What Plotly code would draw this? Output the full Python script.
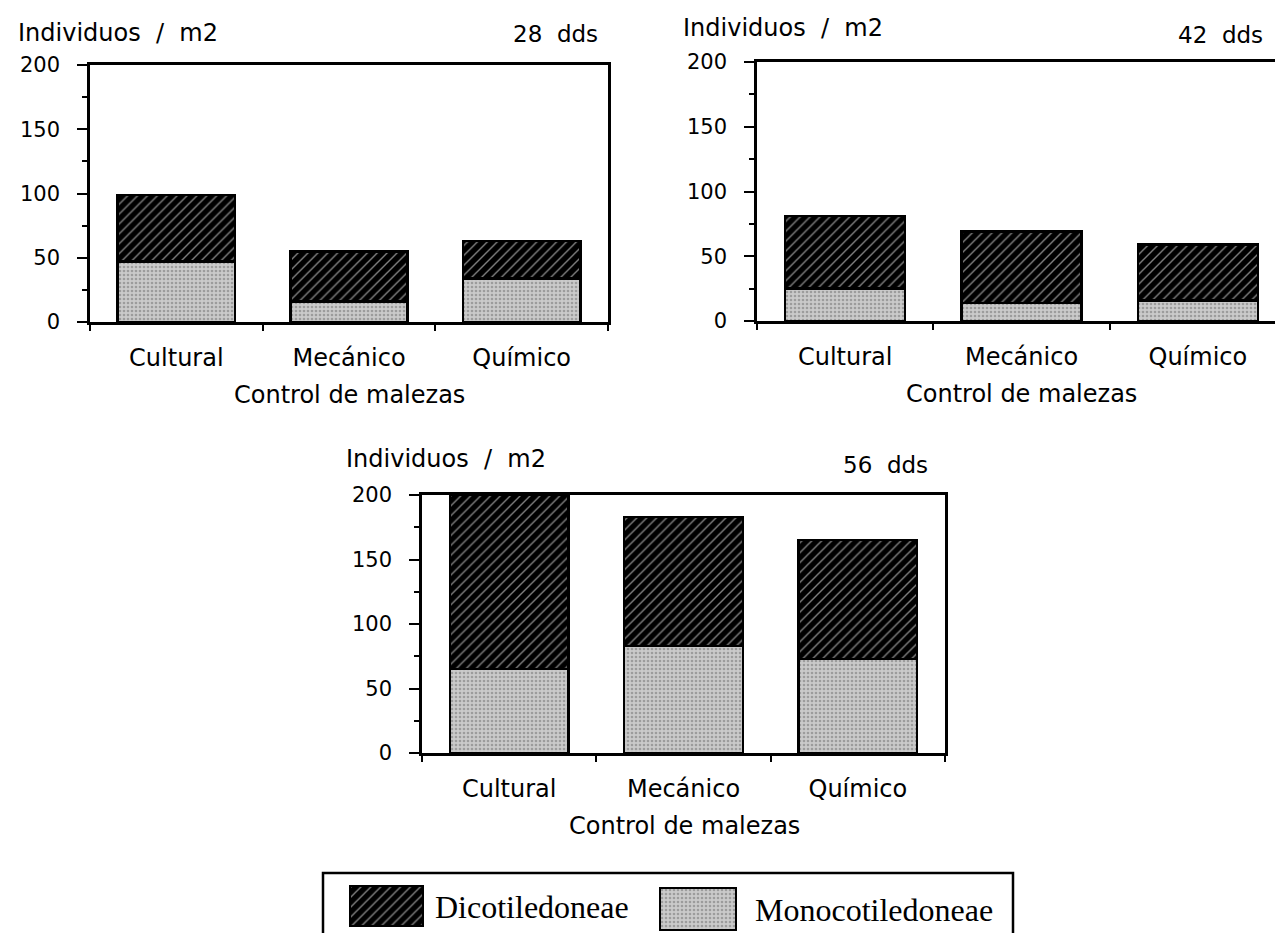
import plotly.graph_objects as go

# ---------------- data ----------------
categories = ["Cultural", "Mecánico", "Químico"]
series_names = ["Dicotiledoneae", "Monocotiledoneae"]
panel_labels = ["28 dds", "42 dds", "56 dds"]

mono_28 = [47, 16, 34]
dico_28 = [52, 39, 29]
mono_42 = [25, 14, 16]
dico_42 = [56, 55, 43]
mono_56 = [65, 83, 73]
dico_56 = [135, 100, 92]

y_ticks = [0, 50, 100, 150, 200]
y_title = "Individuos / m2"
x_title = "Control de malezas"

# ---------------- layout helpers ----------------
W, H = 1283, 933


def px(x):
    return x / W


def py(y):
    return 1 - y / H


def wide(s):
    # the original typesetting uses wide word spacing
    return s.replace(" ", "\u00a0\u00a0")


SANS = "DejaVu Sans"
SERIF = "Liberation Serif"

DICO = dict(color="black", line=dict(color="black", width=2.5),
            pattern=dict(shape="/", fgcolor="#ffffff", bgcolor="#000000",
                         size=7, solidity=0.2))
MONO = dict(color="#bdbdbd", line=dict(color="black", width=2.5),
            pattern=dict(shape=".", fgcolor="#6e6e6e", bgcolor="#cacaca",
                         size=4, solidity=0.35))

# panel boxes in pixels: left, right, top, bottom
panels = [(82, 600, 57, 314), (749, 1278, 54, 313), (414, 937, 487, 745)]
mono_sets = [mono_28, mono_42, mono_56]
dico_sets = [dico_28, dico_42, dico_56]

fig = go.Figure()
layout = dict(width=W, height=H, autosize=False,
              margin=dict(l=0, r=0, t=0, b=0, autoexpand=False),
              paper_bgcolor="white", plot_bgcolor="white",
              barmode="stack", bargap=0.32, showlegend=False,
              annotations=[], shapes=[])

for i, (l, r, t, b) in enumerate(panels):
    n = "" if i == 0 else str(i + 1)
    xa, ya = "x" + n, "y" + n
    fig.add_trace(go.Bar(x=categories, y=mono_sets[i], name=series_names[1],
                         marker=MONO, xaxis=xa, yaxis=ya))
    fig.add_trace(go.Bar(x=categories, y=dico_sets[i], name=series_names[0],
                         marker=DICO, xaxis=xa, yaxis=ya))
    layout["xaxis" + n] = dict(
        domain=[px(l), px(r)], anchor=ya, type="category", automargin=False,
        range=[-0.5, 2.5], ticks="outside", tickson="boundaries",
        ticklen=6, tickwidth=2, tickcolor="black",
        showline=True, linewidth=2.5, linecolor="black", mirror=True,
        showgrid=False, zeroline=False, ticklabelstandoff=12,
        tickfont=dict(family=SANS, size=24, color="black"))
    layout["yaxis" + n] = dict(
        domain=[py(b), py(t)], anchor=xa, range=[0, 200], automargin=False,
        tickvals=y_ticks, ticks="outside", ticklen=10, tickwidth=2,
        tickcolor="black",
        minor=dict(dtick=25, tick0=0, ticks="outside", ticklen=5,
                   tickwidth=2, tickcolor="black", showgrid=False),
        showline=True, linewidth=2.5, linecolor="black", mirror=True,
        showgrid=False, zeroline=False, ticklabelstandoff=13,
        tickfont=dict(family=SANS, size=21, color="black"))

# panel annotations
title_pos = [(8, 25), (673, 20), (336, 451)]
label_pos = [(592, 26), (1257, 27), (922, 457)]
xtitle_pos = [(341, 387), (1013, 386), (676, 818)]
for i in range(3):
    layout["annotations"].append(dict(
        text=wide(y_title), x=px(title_pos[i][0]), y=py(title_pos[i][1]),
        xref="paper", yref="paper", xanchor="left", yanchor="middle",
        showarrow=False, font=dict(family=SANS, size=24, color="black")))
    layout["annotations"].append(dict(
        text=wide(panel_labels[i]), x=px(label_pos[i][0]),
        y=py(label_pos[i][1]),
        xref="paper", yref="paper", xanchor="right", yanchor="middle",
        showarrow=False, font=dict(family=SANS, size=23, color="black")))
    layout["annotations"].append(dict(
        text=x_title, x=px(xtitle_pos[i][0]), y=py(xtitle_pos[i][1]),
        xref="paper", yref="paper", xanchor="center", yanchor="middle",
        showarrow=False, font=dict(family=SANS, size=24, color="black")))

# ---------------- legend (box, swatches, labels) ----------------
layout["shapes"].append(dict(type="rect", xref="paper", yref="paper",
                             x0=px(315), x1=px(1005), y0=py(950), y1=py(865),
                             line=dict(color="black", width=2.5),
                             fillcolor="rgba(0,0,0,0)"))
swatches = [(342, 415, 878, 918), (652, 728, 880, 922)]
markers = [DICO, MONO]
pad = 4
for k, (l, r, t, b) in enumerate(swatches):
    n = str(4 + k)
    wpx, hpx = r - l, b - t
    fig.add_trace(go.Bar(x=[0], y=[1], width=[1], name=series_names[k],
                         marker=markers[k], xaxis="x" + n, yaxis="y" + n))
    layout["xaxis" + n] = dict(domain=[px(l - pad), px(r + pad)],
                               anchor="y" + n, visible=False, automargin=False,
                               range=[-0.5 - pad / wpx, 0.5 + pad / wpx])
    layout["yaxis" + n] = dict(domain=[py(b + pad), py(t - pad)],
                               anchor="x" + n, visible=False, automargin=False,
                               range=[-pad / hpx, 1 + pad / hpx])
legend_text_pos = [(425, 899), (745, 902)]
for k in range(2):
    layout["annotations"].append(dict(
        text=series_names[k], x=px(legend_text_pos[k][0]),
        y=py(legend_text_pos[k][1]), xref="paper", yref="paper",
        xanchor="left", yanchor="middle", showarrow=False,
        font=dict(family=SERIF, size=32, color="black")))

fig.update_layout(**layout)
fig.write_html("out.html")
